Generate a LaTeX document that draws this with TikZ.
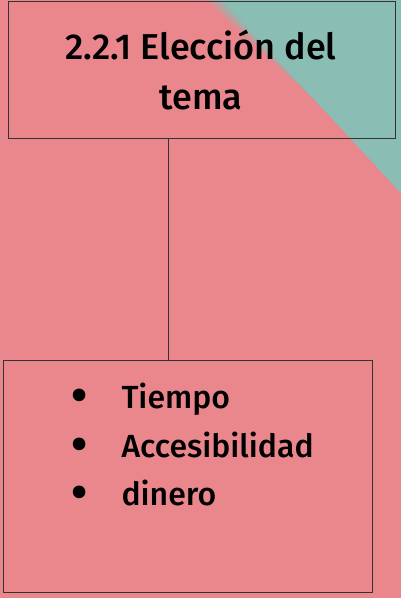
\documentclass[tikz,border=0pt]{standalone}
\usepackage{fontspec}
\setmainfont{Fira Sans}
\newfontfamily\medfont{Fira Sans Medium}
\definecolor{bgpink}{HTML}{E9878D}
\definecolor{tealc}{HTML}{8ABDB3}
\tikzset{
  boxstyle/.style={draw=black!80, line width=1pt},
  titletext/.style={font=\fontsize{36}{50}\selectfont\medfont, align=center, text=black},
  itemtext/.style={font=\fontsize{32}{49}\selectfont\medfont, anchor=base west, text=black},
  bullettext/.style={font=\fontsize{56}{49}\selectfont, anchor=base, text=black, inner sep=0pt, text height=20pt, text depth=0pt},
}
\begin{document}
\begin{tikzpicture}[x=1pt,y=-1pt]
\useasboundingbox (0,0) rectangle (401,598);
\fill[bgpink] (0,0) rectangle (401,598);
\begin{scope}
\clip (0,0) rectangle (401,598);
\foreach \d [count=\k] in {-10,-8,...,8} {
  \pgfmathsetmacro{\pc}{\k*10}
  \fill[tealc!\pc!bgpink] (213+\d,-2) -- (420,-2) -- (420,206+\d) -- cycle;
}
\end{scope}
\node[boxstyle, minimum width=387, minimum height=137, anchor=north west] (top) at (8,1) {};
\node[boxstyle, minimum width=369, minimum height=232, anchor=north west] (bot) at (3,360) {};
\draw[black!80, line width=1pt] (168,138) coordinate (c1) -- (168,360) coordinate (c2);
\node[titletext] (title) at (201,70) {2.2.1 Elección del\\tema};
\node[bullettext] (b1) at (80,414) {•};
\node[itemtext] (t1) at (118,408) {Tiempo};
\node[bullettext] (b2) at (80,463) {•};
\node[itemtext] (t2) at (118,457) {Accesibilidad};
\node[bullettext] (b3) at (80,511) {•};
\node[itemtext] (t3) at (118,505) {dinero};
\end{tikzpicture}
\end{document}
